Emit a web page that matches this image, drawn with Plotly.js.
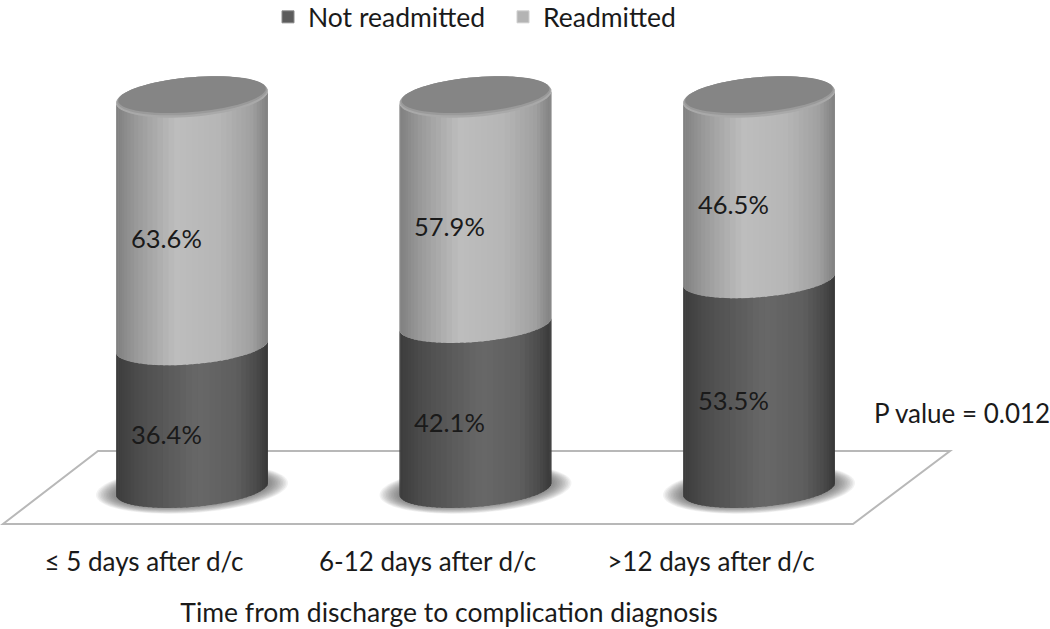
<!DOCTYPE html>
<html>
<head>
<meta charset="utf-8">
<script src="https://cdn.plot.ly/plotly-3.0.1.min.js"></script>
<style>
  html, body { margin: 0; padding: 0; background: #fff; }
</style>
</head>
<body>
<div id="chart" style="width:1050px;height:629px;"></div>
<script>
const categories = ['≤ 5 days after d/c', '6-12 days after d/c', '>12 days after d/c'];
const notReadmitted = [36.4, 42.1, 53.5];
const readmitted = [63.6, 57.9, 46.5];
const pValueText = 'P value = 0.012';
const xTitle = 'Time from discharge to complication diagnosis';

const positions = categories.map((_, i) => i);
const FONT = 'Lato, "Open Sans", sans-serif';
const TEXT = '#1a1a1a';

// figure geometry
const W = 1050, H = 629, plotBottom = 530;
const unitX = 283.5, unitY = 3.92; // px per axis unit
const zeroX = 192, zeroY = 489;    // px of first category / value 0
const rx = 76 / unitX;             // cylinder half width
const ry = 18 / unitY;             // ellipse half depth
const tilt = 6 / unitY;            // ellipse slant
const labelShift = 48 / unitX;     // category labels sit left of the cylinders

const lightStops = [[0, 127], [0.15, 155], [0.4, 189], [0.7, 181], [0.9, 160], [1, 128]];
const darkStops = [[0, 60], [0.15, 76], [0.55, 104], [0.8, 94], [0.93, 74], [1, 55]];

function grey(stops, u) {
    for (let i = 1; i < stops.length; i++) {
        if (u <= stops[i][0]) {
            const f = (u - stops[i - 1][0]) / (stops[i][0] - stops[i - 1][0]);
            const g = Math.round(stops[i - 1][1] + f * (stops[i][1] - stops[i - 1][1]));
            return 'rgb(' + g + ',' + g + ',' + g + ')';
        }
    }
    return 'rgb(128,128,128)';
}

// point on the slanted ellipse, t = 0 is the left edge, 0..PI is the front arc
function pt(cx, v, t, a, b) {
    return [cx - a * Math.cos(t), v - tilt * Math.cos(t) - b * Math.sin(t)];
}

function ellipsePath(cx, v, a, b) {
    let d = '';
    for (let i = 0; i < 72; i++) {
        const p = pt(cx, v, i / 72 * 2 * Math.PI, a, b);
        d += (i ? 'L' : 'M') + p[0] + ',' + p[1];
    }
    return d + 'Z';
}

function ellipse(cx, v, a, b, color, layer) {
    return { type: 'path', xref: 'x', yref: 'y', path: ellipsePath(cx, v, a, b),
             fillcolor: color, line: { width: 0 }, layer: layer || 'above' };
}

// one segment of a cylinder as narrow vertical strips between two front arcs
function segment(cx, v0, v1, stops) {
    const out = [];
    const n = 40;
    for (let i = 0; i < n; i++) {
        const t0 = i / n * Math.PI;
        const t1 = Math.min((i + 1.4) / n, 1) * Math.PI;
        const a = pt(cx, v0, t0, rx, ry), b = pt(cx, v0, t1, rx, ry);
        const c = pt(cx, v1, t1, rx, ry), d = pt(cx, v1, t0, rx, ry);
        out.push({
            type: 'path', xref: 'x', yref: 'y',
            path: 'M' + a + 'L' + b + 'L' + c + 'L' + d + 'Z',
            fillcolor: grey(stops, (1 - Math.cos((t0 + t1) / 2)) / 2),
            line: { width: 0 }, layer: 'above'
        });
    }
    return out;
}

const px = x => x / W;
const py = y => (plotBottom - y) / plotBottom;

const shapes = [{
    type: 'path', xref: 'paper', yref: 'paper', layer: 'below',
    path: 'M' + px(98) + ',' + py(451) + 'L' + px(950) + ',' + py(451) +
          'L' + px(853) + ',' + py(524) + 'L' + px(3) + ',' + py(524) + 'Z',
    fillcolor: 'rgba(255,255,255,0)', line: { color: '#b8b8b8', width: 2 }
}];

positions.forEach(i => {
    // soft shadow on the floor, many faint ellipses stacked
    for (let k = 0; k < 12; k++) {
        shapes.push(ellipse(i, 0, (96 - k * 1.6) / unitX, (24 - k * 0.6) / unitY,
                            'rgba(70,70,70,0.07)', 'below'));
    }
    shapes.push(...segment(i, 0, notReadmitted[i], darkStops));
    shapes.push(...segment(i, notReadmitted[i], notReadmitted[i] + readmitted[i], lightStops));
    // top cap with its lighter rim
    const top = notReadmitted[i] + readmitted[i];
    const capRy = ry * 1.1;
    shapes.push(ellipse(i, top, rx, capRy, '#a9a9a9'));
    shapes.push(ellipse(i, top + 0.3, rx * 0.985, capRy * 0.94, '#9a9a9a'));
    shapes.push(ellipse(i, top + 0.6, rx * 0.97, capRy * 0.88, '#858585'));
});

const annotations = [];
positions.forEach(i => {
    [[notReadmitted[i] / 2, notReadmitted[i]],
     [notReadmitted[i] + readmitted[i] / 2, readmitted[i]]].forEach(l => {
        annotations.push({
            x: i, y: l[0], xref: 'x', yref: 'y', xshift: -26, yshift: -16,
            text: l[1].toFixed(1) + '%', showarrow: false,
            font: { family: FONT, size: 25.5, color: TEXT }
        });
    });
});
annotations.push({
    x: px(962), y: py(413), xref: 'paper', yref: 'paper', xanchor: 'center', yanchor: 'middle',
    text: pValueText, showarrow: false, font: { family: FONT, size: 26, color: TEXT }
});

const traces = [
    { type: 'bar', name: 'Not readmitted', x: positions, y: notReadmitted,
      width: 0.5, marker: { color: '#5c5c5c', line: { color: '#8a8a8a', width: 1 } } },
    { type: 'bar', name: 'Readmitted', x: positions, y: readmitted,
      width: 0.5, marker: { color: '#b4b4b4', line: { color: '#d0d0d0', width: 1 } } }
];

const layout = {
    width: W, height: H,
    margin: { l: 0, r: 0, t: 0, b: H - plotBottom, pad: 0, autoexpand: false },
    barmode: 'stack',
    paper_bgcolor: '#fff', plot_bgcolor: '#fff',
    font: { family: FONT, size: 26, color: TEXT },
    showlegend: true,
    legend: { orientation: 'h', traceorder: 'normal', x: 268 / W, xanchor: 'left',
              y: 1.013, yanchor: 'top', entrywidth: 190, entrywidthmode: 'pixels',
              bgcolor: 'rgba(0,0,0,0)', font: { family: FONT, size: 26.5, color: TEXT } },
    xaxis: {
        domain: [0, 898 / W],
        range: [-zeroX / unitX, (898 - zeroX) / unitX],
        tickmode: 'array', tickvals: positions.map(p => p - labelShift), ticktext: categories,
        ticks: 'outside', ticklen: 9, tickcolor: 'rgba(0,0,0,0)',
        showline: false, showgrid: false, zeroline: false,
        tickfont: { family: FONT, size: 26, color: TEXT },
        title: { text: xTitle, standoff: 27, font: { family: FONT, size: 26.5, color: TEXT } }
    },
    yaxis: {
        visible: false,
        range: [(zeroY - plotBottom) / unitY, zeroY / unitY]
    },
    shapes: shapes,
    annotations: annotations
};

Plotly.newPlot('chart', traces, layout, { displayModeBar: false, staticPlot: true });
</script>
</body>
</html>
